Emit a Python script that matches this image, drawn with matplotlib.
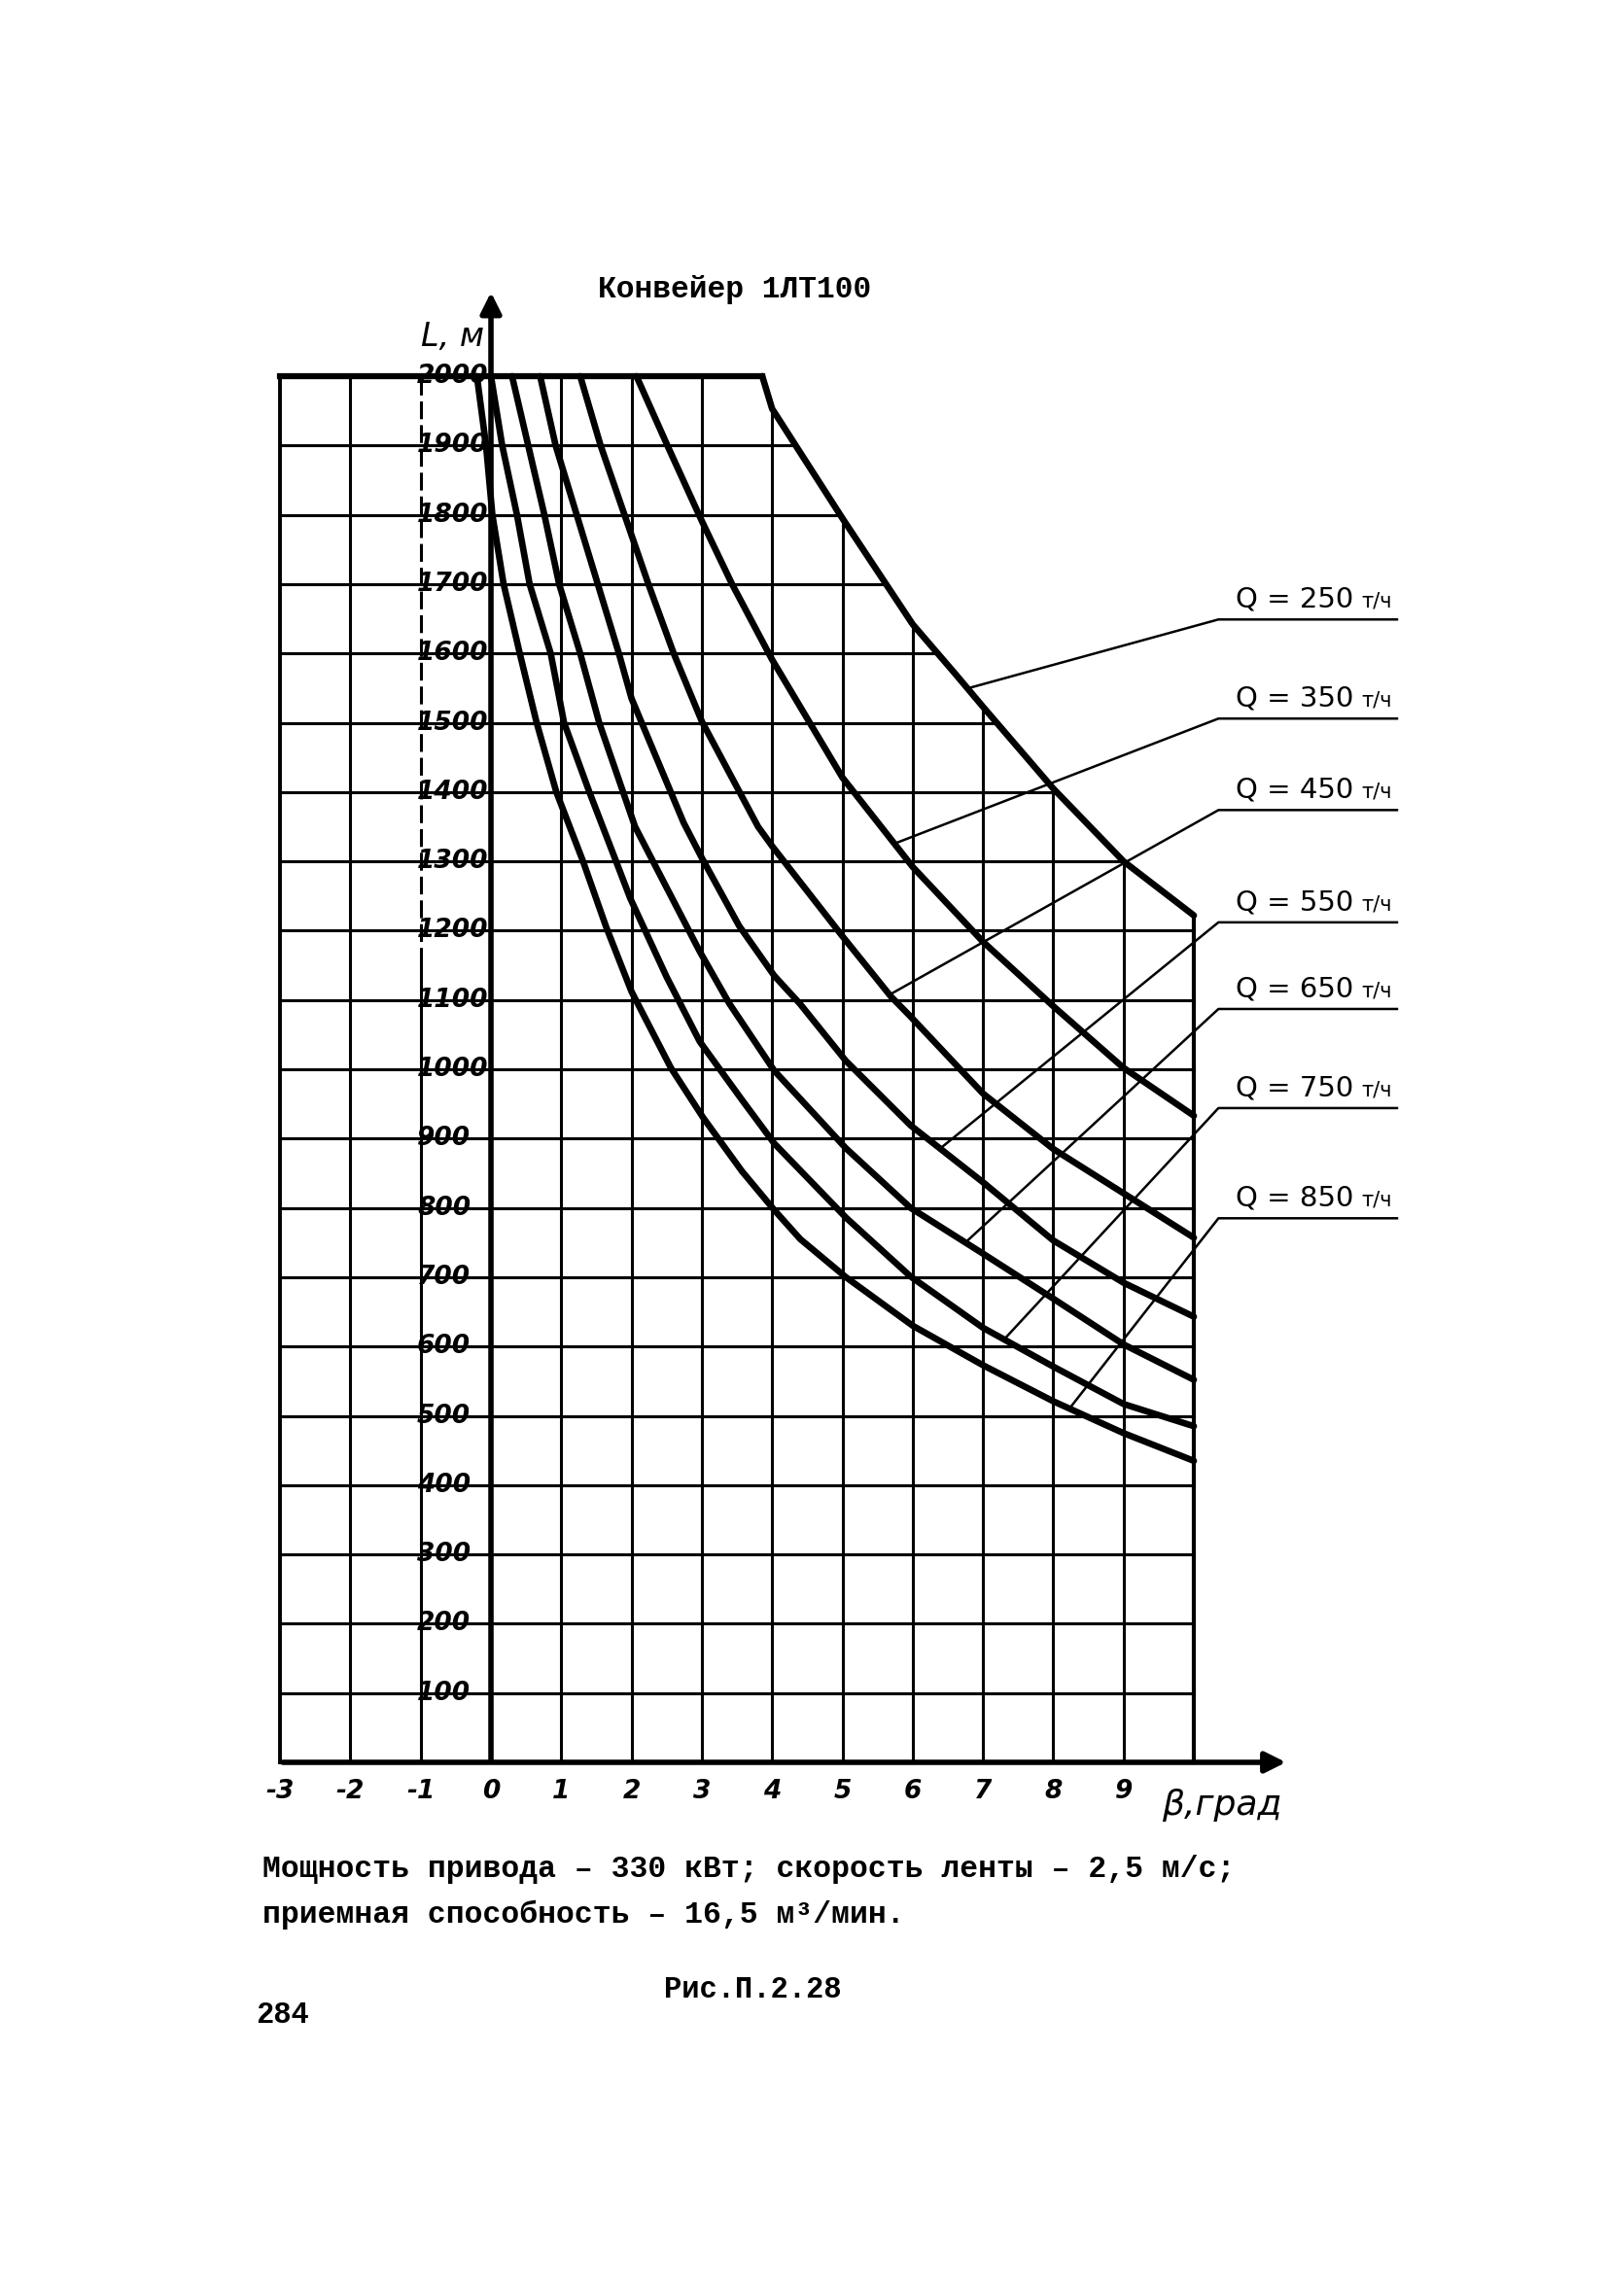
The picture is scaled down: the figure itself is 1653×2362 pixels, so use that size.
import numpy as np
import matplotlib
matplotlib.use('Agg')
import matplotlib.pyplot as plt

# --- данные (β, град -> L, м) ---
Q_values = [250, 350, 450, 550, 650, 750, 850]

beta_250 = [3.86, 4, 5, 6, 6.61, 7, 8, 9, 10]
L_250 = [2000, 1953, 1795, 1642, 1570, 1523, 1405, 1300, 1222]

beta_350 = [2.07, 2.51, 3, 3.43, 4, 5, 6, 7, 8, 9, 10]
L_350 = [2000, 1900, 1791, 1700, 1591, 1421, 1292, 1184, 1091, 1002, 933]

beta_450 = [1.27, 1.56, 1.9, 2.24, 2.6, 3, 3.8, 4, 5, 5.69, 5.97, 7, 8, 9, 10]
L_450 = [2000, 1900, 1800, 1700, 1600, 1502, 1350, 1322, 1192, 1105, 1076, 965, 885, 821, 757]

beta_550 = [0.7, 0.92, 1.22, 1.52, 1.82, 2, 2.74, 3, 3.53, 4.03, 4.4, 5.05, 5.97, 7, 8, 9, 10]
L_550 = [2000, 1900, 1800, 1700, 1600, 1535, 1356, 1305, 1207, 1135, 1094, 1012, 919, 837, 753, 692, 643]

beta_650 = [0.3, 0.53, 0.76, 0.97, 1.27, 1.54, 2.05, 2.97, 3.39, 4.03, 5.05, 5.97, 7, 8, 9, 10]
L_650 = [2000, 1900, 1800, 1700, 1600, 1500, 1350, 1170, 1095, 998, 886, 800, 734, 669, 603, 552]

beta_750 = [0.0, 0.16, 0.37, 0.55, 0.85, 1.04, 1.4, 1.78, 1.98, 2.5, 2.97, 3.57, 4.03, 5.05, 5.97, 7, 8, 9, 10]
L_750 = [2000, 1900, 1800, 1700, 1600, 1500, 1400, 1300, 1247, 1133, 1040, 956, 893, 786, 701, 627, 571, 517, 485]

beta_850 = [-0.2, -0.07, 0.02, 0.18, 0.41, 0.65, 0.93, 1.31, 1.64, 2.0, 2.56, 3.02, 3.57, 4.03, 4.4, 5.05, 6, 7, 8, 9, 10]
L_850 = [2000, 1900, 1800, 1700, 1600, 1500, 1400, 1300, 1205, 1112, 1002, 930, 853, 797, 755, 700, 630, 573, 521, 475, 435]

x_ticks = [-3, -2, -1, 0, 1, 2, 3, 4, 5, 6, 7, 8, 9]
y_ticks = list(range(100, 2001, 100))

curves = [(beta_250, L_250), (beta_350, L_350), (beta_450, L_450), (beta_550, L_550),
          (beta_650, L_650), (beta_750, L_750), (beta_850, L_850)]

# расположение выносок (только оформление)
leader_x = [6.78, 5.74, 5.67, 6.39, 6.75, 7.30, 8.23]
label_y = [1649, 1506, 1374, 1212, 1087, 944, 785]

mono = ['Liberation Mono', 'DejaVu Sans Mono']

fig = plt.figure(figsize=(16.53, 23.62), dpi=100)
ax = fig.add_axes([0, 0, 1, 1])
ax.set_xlim(-6.985, 15.878)
ax.set_ylim(-770, 2542.8)
ax.axis('off')

gb, gl = np.array(beta_250), np.array(L_250)

# сетка, обрезанная по кривой Q=250
for y in y_ticks[:-1]:
    if y >= gl[-1]:
        xr = np.interp(y, gl[::-1], gb[::-1])
    else:
        xr = 10
    ax.plot([-3, xr], [y, y], color='k', lw=2.2)
for x in range(-2, 10):
    top = 2000 if x <= gb[0] else np.interp(x, gb, gl)
    if x == -1:
        ax.plot([x, x], [1150, top], color='k', lw=2.2, linestyle=(0, (6, 2)))
        ax.plot([x, x], [0, 1150], color='k', lw=2.2)
    elif x != 0:
        ax.plot([x, x], [0, top], color='k', lw=2.2)

# рамка
ax.plot([-3, -3], [0, 2000], color='k', lw=2.8)
ax.plot([10, 10], [0, gl[-1]], color='k', lw=3)
ax.plot([-3, gb[0]], [2000, 2000], color='k', lw=4.5)

# оси со стрелками
ax.annotate('', xy=(0, 2125), xytext=(0, 0),
            arrowprops=dict(arrowstyle='-|>', lw=4, color='k', mutation_scale=32))
ax.annotate('', xy=(11.35, 0), xytext=(-3, 0),
            arrowprops=dict(arrowstyle='-|>', lw=4, color='k', mutation_scale=32))

# кривые
for b, L in curves:
    ax.plot(b, L, color='k', lw=4.8, solid_joinstyle='round', solid_capstyle='round')

# выноски и подписи
for q, lx, ly, (b, L) in zip(Q_values, leader_x, label_y, curves):
    cy = np.interp(lx, b, L)
    ax.plot([lx, 10.35, 12.89], [cy, ly, ly], color='k', lw=1.8)
    ax.text(10.6, ly + 18, f'Q = {q}', fontsize=21, ha='left', va='baseline')
    ax.text(12.38, ly + 18, 'т/ч', fontsize=15, ha='left', va='baseline')

# подписи делений
for y in y_ticks:
    ax.text(-1.05, y, str(y), fontsize=19, style='italic', weight='bold',
            ha='left', va='center')
for x in x_ticks:
    ax.text(x, -42, str(x), fontsize=19, style='italic', weight='bold',
            ha='center', va='center')

ax.text(9.55, -62, 'β,град', fontsize=26, style='italic', ha='left', va='center')
ax.text(-1.0, 2057, 'L, м', fontsize=24, style='italic', ha='left', va='center')

ax.text(3.46, 2125, 'Конвейер 1ЛТ100', fontsize=22.5, family=mono, weight='bold',
        ha='center', va='center')

ax.text(-3.25, 2000 - (1923 - 387) / 0.713,
        'Мощность привода – 330 кВт; скорость ленты – 2,5 м/с;',
        fontsize=22.6, family=mono, weight='bold', ha='left', va='center')
ax.text(-3.25, 2000 - (1970 - 387) / 0.713,
        'приемная способность – 16,5 м³/мин.',
        fontsize=22.6, family=mono, weight='bold', ha='left', va='center')
ax.text(3.73, 2000 - (2047 - 387) / 0.713, 'Рис.П.2.28',
        fontsize=22, family=mono, weight='bold', ha='center', va='center')
ax.text(-3.35, 2000 - (2073 - 387) / 0.713, '284',
        fontsize=22, family=mono, weight='bold', ha='left', va='center')

fig.savefig('out.png', dpi=100, facecolor='white')
